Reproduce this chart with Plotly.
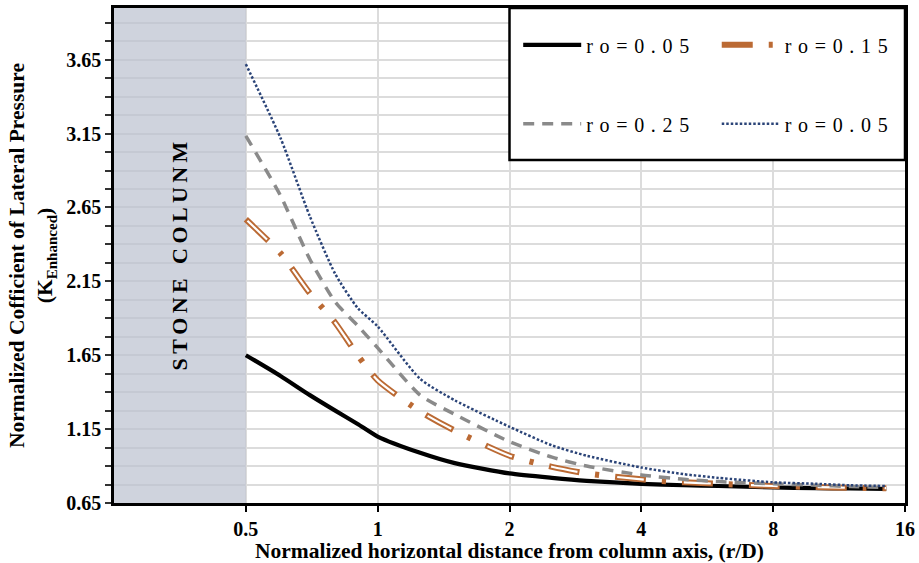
import math
import plotly.graph_objects as go

# ---------------- data ----------------
x_vals = [0.5, 0.6, 0.7, 0.8, 0.9, 1.0, 1.25, 1.5, 2.0, 2.5, 3.0, 4.0, 5.0, 6.0, 8.0, 10.0, 12.0, 14.5]
ro_005 = [1.65, 1.51, 1.38, 1.275, 1.185, 1.10, 0.99, 0.92, 0.85, 0.82, 0.80, 0.78, 0.77, 0.765, 0.755, 0.75, 0.748, 0.745]
ro_015 = [2.57, 2.34, 2.07, 1.87, 1.65, 1.48, 1.27, 1.14, 0.97, 0.895, 0.85, 0.81, 0.79, 0.78, 0.765, 0.758, 0.753, 0.75]
ro_025 = [3.135, 2.73, 2.30, 2.01, 1.85, 1.70, 1.38, 1.25, 1.065, 0.96, 0.90, 0.84, 0.81, 0.795, 0.78, 0.77, 0.762, 0.755]
ro_005b = [3.62, 3.12, 2.59, 2.20, 1.97, 1.845, 1.49, 1.345, 1.166, 1.04, 0.97, 0.89, 0.845, 0.82, 0.79, 0.78, 0.77, 0.765]

x_ticks = [0.5, 1, 2, 4, 8, 16]
y_ticks = [0.65, 1.15, 1.65, 2.15, 2.65, 3.15, 3.65]
x_range = [0.25, 16]
y_range = [0.65, 4.0]
stone_x = [0.25, 0.5]

SERIF = "Liberation Serif, Times New Roman, serif"


def spaced(s, gap="\u2004"):
    return gap.join(list(s))


fig = go.Figure()

# stone column shaded region
fig.add_trace(go.Scatter(
    x=[stone_x[0], stone_x[1], stone_x[1], stone_x[0], stone_x[0]],
    y=[y_range[0], y_range[0], y_range[1], y_range[1], y_range[0]],
    fill="toself", fillcolor="rgba(188,194,208,0.72)",
    line=dict(width=0), mode="lines", showlegend=False, hoverinfo="skip"))

spl = dict(shape="spline", smoothing=0.6)
fig.add_trace(go.Scatter(x=x_vals, y=ro_005, mode="lines", name=spaced("ro=0.05"),
                         legend="legend", legendgroup="a",
                         line=dict(color="black", width=4.2, **spl)))
fig.add_trace(go.Scatter(x=x_vals, y=ro_015, mode="lines", name=spaced("ro=0.15"),
                         legend="legend2", legendgroup="b",
                         line=dict(color="#bb6a34", width=6, dash="31px,16px,4px,16px", **spl)))
fig.add_trace(go.Scatter(x=x_vals, y=ro_015, mode="lines", showlegend=False, hoverinfo="skip",
                         line=dict(color="white", width=2.2, dash="0px,2px,27px,38px", **spl)))
fig.add_trace(go.Scatter(x=x_vals, y=ro_025, mode="lines", name=spaced("ro=0.25"),
                         legend="legend", legendgroup="c",
                         line=dict(color="#8a8a8a", width=3.5, dash="11px,8px", **spl)))
fig.add_trace(go.Scatter(x=x_vals, y=ro_005b, mode="lines", name=spaced("ro=0.05"),
                         legend="legend2", legendgroup="d",
                         line=dict(color="#2b4478", width=2.5, dash="2.5px,2px", **spl)))

fig.add_annotation(x=math.log10(math.sqrt(stone_x[0] * stone_x[1])), y=(y_range[0] + y_range[1]) / 2,
                   xref="x", yref="y", text=spaced("STONE COLUNM", "\u2009"), textangle=-90, showarrow=False,
                   font=dict(family=SERIF, size=22, color="black", weight="bold"))

# legend frame
fig.add_shape(type="rect", xref="paper", yref="paper", x0=0.5, x1=1.0, y0=0.693, y1=1.0,
              line=dict(color="black", width=2.5), fillcolor="white", layer="above")

fig.update_xaxes(
    type="log", range=[math.log10(x_range[0]), math.log10(x_range[1])],
    tickvals=x_ticks, ticktext=[str(v) for v in x_ticks],
    ticks="outside", ticklen=6, tickwidth=2, tickcolor="black",
    showgrid=True, gridcolor="#dcdcdc", gridwidth=1.5,
    showline=True, linecolor="black", linewidth=2.5, mirror=True,
    tickfont=dict(family=SERIF, size=20, color="black", weight="bold"),
    title=dict(text="Normalized horizontal distance from column axis, (r/D)", standoff=4,
               font=dict(family=SERIF, size=21.5, color="black", weight="bold")),
    zeroline=False, automargin=False)

fig.update_yaxes(
    range=y_range, tickvals=y_ticks, ticktext=["%.2f" % v for v in y_ticks],
    ticks="outside", ticklen=6, tickwidth=1.5, tickcolor="#333",
    showgrid=True, gridcolor="#dcdcdc", gridwidth=1.5,
    minor=dict(tick0=0.65, dtick=0.125, ticks="outside", ticklen=6, tickcolor="#333",
               showgrid=True, gridcolor="#dcdcdc", gridwidth=1.5),
    showline=True, linecolor="black", linewidth=2.5, mirror=True,
    tickfont=dict(family=SERIF, size=20, color="black", weight="bold"),
    title=dict(text="Normalized Cofficient of Lateral Pressure<br>(K<sub>Enhanced</sub>)", standoff=8,
               font=dict(family=SERIF, size=21.5, color="black", weight="bold")),
    zeroline=False, automargin=False)

leg_common = dict(orientation="v", yanchor="top", xanchor="left",
                  bgcolor="rgba(0,0,0,0)", borderwidth=0,
                  font=dict(family=SERIF, size=20, color="black"),
                  traceorder="grouped", tracegroupgap=50, itemwidth=58)

fig.update_layout(
    width=919, height=563,
    margin=dict(l=114, r=14, t=8, b=60),
    plot_bgcolor="white", paper_bgcolor="white",
    legend=dict(x=0.511, y=0.965, **leg_common),
    legend2=dict(x=0.762, y=0.965, **leg_common),
)

fig.write_html("out.html", config={"displayModeBar": False},
               post_script="document.body.style.margin='0';")
